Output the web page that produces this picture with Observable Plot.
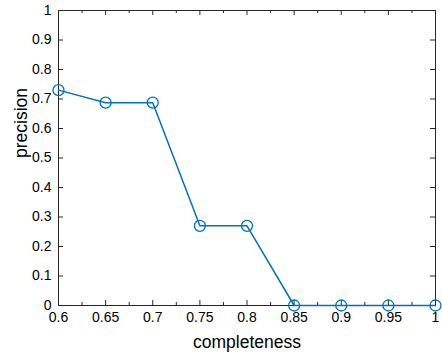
<!DOCTYPE html>
<html>
<head>
<meta charset="utf-8">
<script src="https://cdn.jsdelivr.net/npm/d3@7"></script>
<script src="https://cdn.jsdelivr.net/npm/@observablehq/plot@0.6"></script>
<style>
  html, body { margin: 0; padding: 0; background: #fff; }
</style>
</head>
<body>
<div id="chart"></div>
<script>
const completeness = [0.6, 0.65, 0.7, 0.75, 0.8, 0.85, 0.9, 0.95, 1];
const precision = [0.73, 0.6875, 0.6875, 0.27, 0.27, 0, 0, 0, 0];
const xTicks = [0.6, 0.65, 0.7, 0.75, 0.8, 0.85, 0.9, 0.95, 1];
const xTickLabels = ["0.6", "0.65", "0.7", "0.75", "0.8", "0.85", "0.9", "0.95", "1"];
const xMinorTicks = [0.625, 0.675, 0.725, 0.775, 0.825, 0.875, 0.925, 0.975];
const yTicks = [0, 0.1, 0.2, 0.3, 0.4, 0.5, 0.6, 0.7, 0.8, 0.9, 1];
const yTickLabels = ["0", "0.1", "0.2", "0.3", "0.4", "0.5", "0.6", "0.7", "0.8", "0.9", "1"];
const xLabel = "completeness";
const yLabel = "precision";

const data = completeness.map((c, i) => ({c, p: precision[i]}));

const W = 442, H = 359;
const mL = 58, mR = 7, mT = 10, mB = 54;
const innerH = H - mT - mB, innerW = W - mL - mR;
const axisColor = "#262626";
const blue = "#0072BD";
const major = 5, minor = 3;

const chart = Plot.plot({
  width: W,
  height: H,
  marginLeft: mL,
  marginRight: mR,
  marginTop: mT,
  marginBottom: mB,
  style: {fontFamily: "'Liberation Sans', Arial, Helvetica, sans-serif", fontSize: "14px", color: axisColor, background: "#fff"},
  x: {domain: [0.6, 1]},
  y: {domain: [0, 1]},
  marks: [
    Plot.axisX({ticks: xTicks, tickSize: 0, tickPadding: 7, tickFormat: (d, i) => xTickLabels[i], fontSize: 14, fill: "#000", label: null}),
    Plot.axisY({ticks: yTicks, tickSize: 0, tickPadding: 7, tickFormat: (d, i) => yTickLabels[i], fontSize: 14, fill: "#000", label: null}),
    // inward ticks
    Plot.tickX(xTicks, {x: d => d, insetTop: innerH - major, stroke: axisColor}),
    Plot.tickX(xTicks, {x: d => d, insetBottom: innerH - major, stroke: axisColor}),
    Plot.tickX(xMinorTicks, {x: d => d, insetTop: innerH - minor, stroke: axisColor}),
    Plot.tickX(xMinorTicks, {x: d => d, insetBottom: innerH - minor, stroke: axisColor}),
    Plot.tickY(yTicks, {y: d => d, insetRight: innerW - major, stroke: axisColor}),
    Plot.tickY(yTicks, {y: d => d, insetLeft: innerW - major, stroke: axisColor}),
    Plot.frame({stroke: axisColor, strokeWidth: 1}),
    Plot.line(data, {x: "c", y: "p", stroke: blue, strokeWidth: 1.5}),
    Plot.dot(data, {x: "c", y: "p", r: 5.5, stroke: blue, strokeWidth: 1.3, fill: "none"}),
    Plot.text([xLabel], {text: d => d, frameAnchor: "bottom", dy: 37, lineAnchor: "middle", fontSize: 17.5, fill: "#000"}),
    Plot.text([yLabel], {text: d => d, frameAnchor: "left", dx: -37, rotate: -90, lineAnchor: "middle", fontSize: 17.5, fill: "#000"})
  ]
});
document.getElementById("chart").appendChild(chart);
</script>
</body>
</html>
